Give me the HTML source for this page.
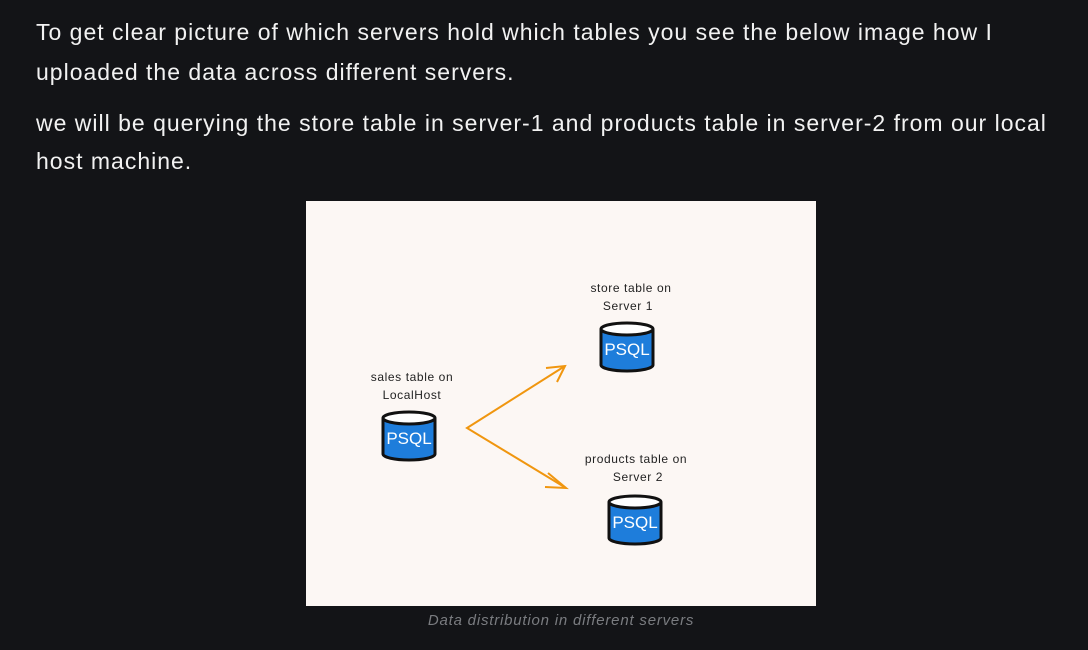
<!DOCTYPE html>
<html><head><meta charset="utf-8"><style>
html,body{margin:0;padding:0;background:#131417;width:1088px;height:650px;overflow:hidden}
.t{position:absolute;left:36px;color:#f2f2f2;font-family:"Liberation Sans",sans-serif;font-size:23px;letter-spacing:1px;white-space:nowrap;line-height:26px}
.cap{position:absolute;left:306px;width:510px;top:612px;text-align:center;color:#7a7c80;font-family:"Liberation Sans",sans-serif;font-style:italic;font-size:15px;letter-spacing:0.8px}
svg{position:absolute;left:306px;top:201px}
</style></head><body>
<div class="t" style="top:19px">To get clear picture of which servers hold which tables you see the below image how I</div>
<div class="t" style="top:59px">uploaded the data across different servers.</div>
<div class="t" style="top:110px">we will be querying the store table in server-1 and products table in server-2 from our local</div>
<div class="t" style="top:148px">host machine.</div>
<svg width="510" height="405" viewBox="306 201 510 405">
<rect x="306" y="201" width="510" height="405" fill="#fcf7f4"/>
<defs>
<g id="cyl">
<path d="M0 8 L0 44 A26 6 0 0 0 52 44 L52 8" fill="#1e7ddb" stroke="#111" stroke-width="3"/>
<ellipse cx="26" cy="8" rx="26" ry="6" fill="#fff" stroke="#111" stroke-width="3"/>
<text x="26" y="34" text-anchor="middle" fill="#fff" font-family="Liberation Sans,sans-serif" font-size="17">PSQL</text>
</g>
</defs>
<use href="#cyl" x="383" y="410"/>
<use href="#cyl" x="601" y="321"/>
<use href="#cyl" x="609" y="494"/>
<g font-family="Liberation Sans,sans-serif" font-size="12" fill="#222" text-anchor="middle" letter-spacing="0.6">
<text x="412" y="381">sales table on</text><text x="412" y="399">LocalHost</text>
<text x="631" y="292">store table on</text><text x="628" y="310">Server 1</text>
<text x="636" y="463">products table on</text><text x="638" y="481">Server 2</text>
</g>
<g stroke="#f0960f" stroke-width="2" fill="none">
<path d="M565 366 L467 428 L566 488"/>
<path d="M546 368 L565 366 L557 382"/>
<path d="M548 473 L566 488 L545 487"/>
</g>
</svg>
<div class="cap">Data distribution in different servers</div>
</body></html>
